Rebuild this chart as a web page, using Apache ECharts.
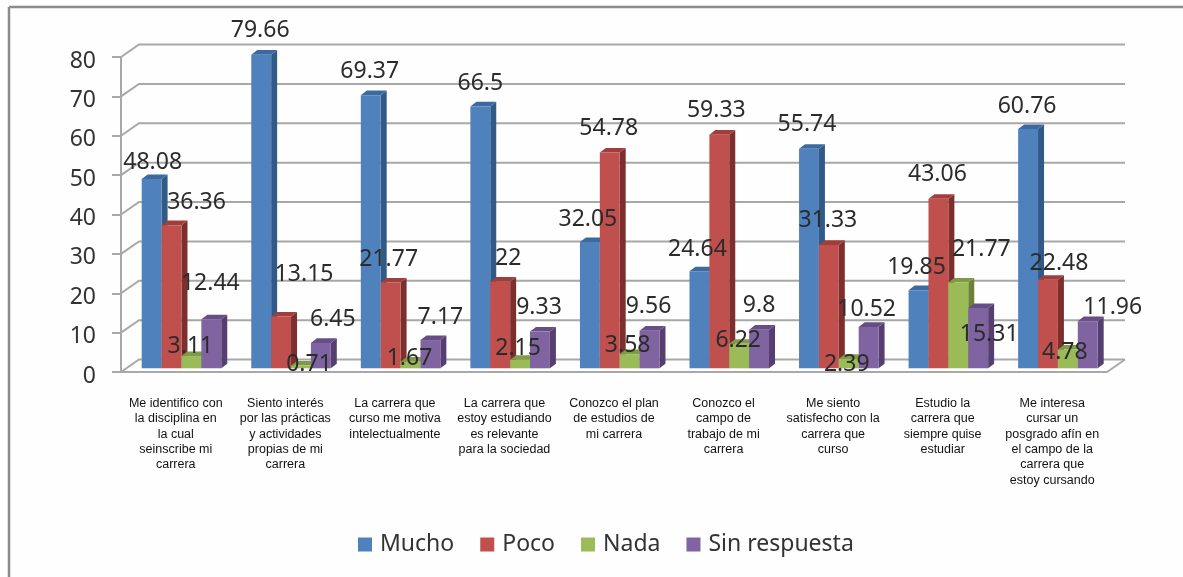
<!DOCTYPE html>
<html><head><meta charset="utf-8">
<style>html,body{margin:0;padding:0;background:#fff}#c{width:1183px;height:577px}</style>
<script src="https://cdn.jsdelivr.net/npm/echarts@6/dist/echarts.min.js"></script>
</head><body><div id="c"></div>
<script>
const categories = [
 "Me identifico con\nla disciplina en\nla cual\nseinscribe mi\ncarrera",
 "Siento interés\npor las prácticas\ny actividades\npropias de mi\ncarrera",
 "La carrera que\ncurso me motiva\nintelectualmente",
 "La carrera que\nestoy estudiando\nes relevante\npara la sociedad",
 "Conozco el plan\nde estudios de\nmi carrera",
 "Conozco el\ncampo de\ntrabajo de mi\ncarrera",
 "Me siento\nsatisfecho con la\ncarrera que\ncurso",
 "Estudio la\ncarrera que\nsiempre quise\nestudiar",
 "Me interesa\ncursar un\nposgrado afín en\nel campo de la\ncarrera que\nestoy cursando"
];
const mucho = [48.08,79.66,69.37,66.5,32.05,24.64,55.74,19.85,60.76];
const poco  = [36.36,13.15,21.77,22,54.78,59.33,31.33,43.06,22.48];
const nada  = [3.11,0.71,1.67,2.15,3.58,6.22,2.39,21.77,4.78];
const sinRespuesta = [12.44,6.45,7.17,9.33,9.56,9.8,10.52,15.31,11.96];
const yTicks = [0,10,20,30,40,50,60,70,80];

// hand-placed label nudges (px), relative to each bar's top centre
const nudgeMucho = [[1,-20],[-1,-27],[-1,-27],[0,-26],[-2,-26],[-2,-25],[-2,-27],[-2,-26],[-1,-26]];
const nudgePoco  = [[25,-26],[23,-45],[-2,-26],[8,-26],[-1,-27],[-3,-27],[-1,-27],[-1,-27],[11,-19]];
const nudgeNada  = [[-1,-13],[8,-4],[-1,-6],[-2,-14],[-2,-12],[-1,-6],[-2,3],[23,-36],[-3,0]];
const nudgeSin   = [[-1,-39],[12,-26],[10,-26],[-1,-27],[-1,-27],[0,-27],[-2,-20],[11,23],[25,-17]];

const FONT = '"Noto Sans", sans-serif';
const LABEL_SHIFT = 3;                     // Noto digits sit high in their box
const WALL_DX = 18, WALL_DY = -12.5;       // depth of the chart box
const BAR_DX = 6, BAR_DY = -4.6;           // depth of a bar
const PLANE_DY = -3.7;                     // bars stand slightly behind the front axis
const BAR_W = 0.1815, BAR_START = 0.189;   // share of one category band
const GRID_C = '#a8a8a8';

function barSeries(name, values, nudges, idx, front, side, top) {
  return {
    name, type: 'custom', coordinateSystem: 'cartesian2d', z: 2,
    itemStyle: {color: front},
    encode: {x: 0, y: 1},
    data: values.map((v, i) => [i, v]),
    renderItem(params, api) {
      const cat = api.value(0), v = api.value(1);
      const band = api.size([1, 0])[0];
      const w = band * BAR_W;
      const c = api.coord([cat, v]);
      const base = api.coord([cat, 0]);
      const x0 = c[0] - band / 2 + band * BAR_START + idx * band * BAR_W;
      const x1 = x0 + w;
      const yT = c[1] + PLANE_DY, yB = base[1] + PLANE_DY;
      const n = nudges[cat];
      const poly = (pts, fill) => ({type: 'polygon', shape: {points: pts}, style: {fill}, z2: 10});
      return {type: 'group', children: [
        poly([[x1,yB],[x1+BAR_DX,yB+BAR_DY],[x1+BAR_DX,yT+BAR_DY],[x1,yT]], side),
        poly([[x0,yT],[x1,yT],[x1+BAR_DX,yT+BAR_DY],[x0+BAR_DX,yT+BAR_DY]], top),
        poly([[x0,yB],[x1,yB],[x1,yT],[x0,yT]], front),
        {type: 'text', z2: 100, x: (x0 + x1) / 2 + n[0], y: yT + n[1] + LABEL_SHIFT,
         style: {text: String(v), fill: '#2b2b2b', font: '23px ' + FONT, align: 'center', verticalAlign: 'middle'}}
      ]};
    }
  };
}

const wall = {
  type: 'custom', coordinateSystem: 'cartesian2d', z: 1, silent: true,
  encode: {x: 0, y: 1},
  data: yTicks.map(v => [0, v]),
  renderItem(params, api) {
    const y = api.coord([0, api.value(1)])[1];
    const L = params.coordSys.x, R = L + params.coordSys.width;
    const ls = {stroke: GRID_C, lineWidth: 2, fill: null};
    const kids = [{type: 'polyline', shape: {points: [[L,y],[L+WALL_DX,y+WALL_DY],[R+WALL_DX,y+WALL_DY]]}, style: ls}];
    if (api.value(1) === 0) kids.push({type: 'line', shape: {x1: R, y1: y, x2: R + WALL_DX, y2: y + WALL_DY}, style: ls});
    return {type: 'group', children: kids};
  }
};

const chart = echarts.init(document.getElementById('c'));
chart.setOption({
  animation: false,
  backgroundColor: '#fefefe',
  grid: {left: 121, right: 76, top: 57, bottom: 205},
  xAxis: {
    type: 'category', data: categories, boundaryGap: true,
    axisLine: {lineStyle: {color: GRID_C, width: 2}},
    axisTick: {length: 4, lineStyle: {color: '#8c8c8c', width: 1.5}},
    axisLabel: {interval: 0, color: '#111', fontFamily: '"Liberation Sans", Arial, sans-serif', fontSize: 12.5, lineHeight: 15.3, margin: 24, align: 'center'}
  },
  yAxis: {
    type: 'value', min: 0, max: 80, interval: 10,
    axisLine: {show: true, lineStyle: {color: GRID_C, width: 2}},
    axisTick: {show: true, length: 9, lineStyle: {color: GRID_C, width: 2}},
    splitLine: {show: false},
    axisLabel: {margin: 25, formatter: '{a|{value}}',
      rich: {a: {color: '#333', fontFamily: FONT, fontSize: 23, padding: [8,0,0,0]}}}
  },
  legend: {
    left: 358, top: 533, padding: 0, icon: 'rect', itemWidth: 14, itemHeight: 14, itemGap: 26,
    data: ['Mucho','Poco','Nada','Sin respuesta'],
    textStyle: {color: '#333', fontFamily: FONT, fontSize: 23, padding: [0,0,0,3]}
  },
  graphic: [
    {type: 'line', z: 10, shape: {x1: 9, y1: 7, x2: 1183, y2: 7}, style: {stroke: '#8c8c8c', lineWidth: 2.5}},
    {type: 'line', z: 10, shape: {x1: 9, y1: 7, x2: 9, y2: 577}, style: {stroke: '#8c8c8c', lineWidth: 2.5}}
  ],
  series: [
    wall,
    barSeries('Mucho', mucho, nudgeMucho, 0, '#4f81bd', '#325a88', '#3d6a9e'),
    barSeries('Poco', poco, nudgePoco, 1, '#c0504d', '#7d2f2d', '#a03e3c'),
    barSeries('Nada', nada, nudgeNada, 2, '#9bbb59', '#6b8236', '#7f9b45'),
    barSeries('Sin respuesta', sinRespuesta, nudgeSin, 3, '#8064a2', '#563f70', '#664f85')
  ]
});
</script></body></html>
